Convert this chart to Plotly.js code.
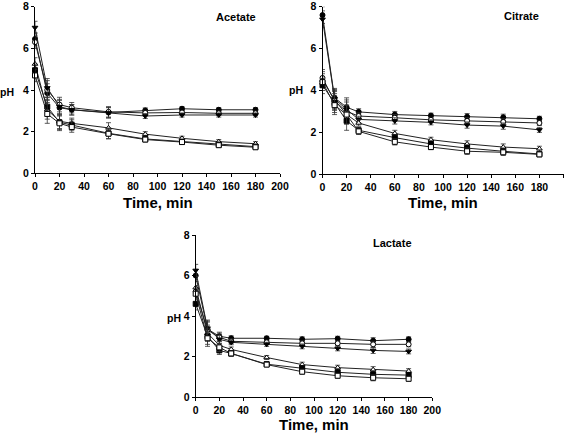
<!DOCTYPE html>
<html>
<head>
<meta charset="utf-8">
<script src="https://cdn.plot.ly/plotly-3.0.1.min.js"></script>
<style>html,body{margin:0;padding:0;background:#fff}#chart{width:572px;height:433px}</style>
</head>
<body>
<div id="chart"></div>
<script>
const times = [0, 10, 20, 30, 60, 90, 120, 150, 180];
const xTicks = [0, 20, 40, 60, 80, 100, 120, 140, 160, 180, 200];
const yTicks = [0, 2, 4, 6, 8];
const panelNames = ["Acetate", "Citrate", "Lactate"];
const xTitle = "Time, min";
const yTitle = "pH";

const acetateFilledCircle   = [6.45, 3.85, 3.15, 3.05, 2.92, 3.02, 3.10, 3.05, 3.05];
const acetateOpenCircle     = [6.30, 4.00, 3.30, 3.15, 2.95, 2.90, 2.92, 2.88, 2.88];
const acetateFilledTriangle = [7.00, 4.10, 3.20, 3.05, 2.90, 2.75, 2.80, 2.80, 2.80];
const acetateOpenTriangle   = [5.25, 3.05, 2.50, 2.40, 2.18, 1.88, 1.68, 1.52, 1.42];
const acetateFilledSquare   = [4.95, 3.20, 2.45, 2.32, 1.92, 1.65, 1.52, 1.38, 1.28];
const acetateOpenSquare     = [4.70, 2.85, 2.40, 2.22, 1.90, 1.62, 1.50, 1.35, 1.25];
const acetateErr            = [0.30, 0.45, 0.35, 0.25, 0.25, 0.12, 0.10, 0.10, 0.10];

const citrateFilledCircle   = [7.60, 3.65, 3.20, 2.98, 2.85, 2.80, 2.75, 2.72, 2.65];
const citrateOpenCircle     = [4.60, 3.50, 3.00, 2.78, 2.70, 2.60, 2.55, 2.50, 2.45];
const citrateFilledTriangle = [7.40, 3.60, 3.10, 2.62, 2.55, 2.48, 2.35, 2.30, 2.12];
const citrateOpenTriangle   = [4.50, 3.55, 2.85, 2.45, 1.95, 1.65, 1.45, 1.30, 1.22];
const citrateFilledSquare   = [4.25, 3.40, 2.55, 2.10, 1.75, 1.45, 1.25, 1.10, 0.97];
const citrateOpenSquare     = [4.40, 3.30, 2.85, 2.05, 1.55, 1.30, 1.10, 1.05, 0.95];
const citrateErr            = [0.40, 0.45, 0.45, 0.15, 0.15, 0.12, 0.15, 0.15, 0.12];

const lactateFilledCircle   = [6.00, 3.35, 3.00, 2.90, 2.90, 2.85, 2.88, 2.78, 2.85];
const lactateOpenCircle     = [5.20, 3.30, 2.95, 2.75, 2.70, 2.65, 2.65, 2.60, 2.60];
const lactateFilledTriangle = [6.25, 3.40, 2.85, 2.70, 2.60, 2.50, 2.40, 2.30, 2.25];
const lactateOpenTriangle   = [5.40, 3.15, 2.55, 2.35, 1.95, 1.60, 1.45, 1.35, 1.28];
const lactateFilledSquare   = [4.60, 3.00, 2.30, 2.15, 1.62, 1.42, 1.22, 1.12, 1.08];
const lactateOpenSquare     = [5.10, 2.90, 2.45, 2.15, 1.60, 1.25, 1.05, 0.95, 0.90];
const lactateErr            = [0.30, 0.40, 0.20, 0.12, 0.10, 0.12, 0.12, 0.15, 0.12];

const FONT = "Liberation Sans, Arial, sans-serif";
const styles = [
  {symbol: "circle", color: "#000"},
  {symbol: "circle", color: "#fff"},
  {symbol: "triangle-down", color: "#000"},
  {symbol: "triangle-up", color: "#fff"},
  {symbol: "square", color: "#000"},
  {symbol: "square", color: "#fff"}
];

const panels = [
  {series: [acetateFilledCircle, acetateOpenCircle, acetateFilledTriangle, acetateOpenTriangle, acetateFilledSquare, acetateOpenSquare], err: acetateErr, xa: "x", ya: "y"},
  {series: [citrateFilledCircle, citrateOpenCircle, citrateFilledTriangle, citrateOpenTriangle, citrateFilledSquare, citrateOpenSquare], err: citrateErr, xa: "x2", ya: "y2"},
  {series: [lactateFilledCircle, lactateOpenCircle, lactateFilledTriangle, lactateOpenTriangle, lactateFilledSquare, lactateOpenSquare], err: lactateErr, xa: "x3", ya: "y3"}
];

const traces = [];
panels.forEach(p => {
  p.series.forEach((vals, i) => {
    traces.push({
      x: times, y: vals, xaxis: p.xa, yaxis: p.ya,
      type: "scatter", mode: "lines+markers", cliponaxis: false, showlegend: false,
      line: {color: "#222", width: 1},
      marker: {symbol: styles[i].symbol, color: styles[i].color, size: 5, line: {color: "#000", width: 1}},
      error_y: {type: "data", array: p.err, visible: true, color: "#333", thickness: 0.8, width: 2.5}
    });
  });
});

const W = 572, H = 433;
function xd(a, b) { return [a / W, b / W]; }
function yd(bottom, top) { return [1 - bottom / H, 1 - top / H]; }

function xAxis(dom, anchor) {
  return {domain: dom, anchor: anchor, range: [0, 200], tickvals: xTicks, ticktext: xTicks.map(String),
    showline: true, linecolor: "#000", linewidth: 1, ticks: "outside", ticklen: 3, tickcolor: "#000",
    showgrid: false, zeroline: false, fixedrange: true,
    tickfont: {family: FONT, size: 10.5, color: "#000", weight: "bold"}};
}
function yAxis(dom, anchor) {
  return {domain: dom, anchor: anchor, range: [0, 8], tickvals: yTicks, ticktext: yTicks.map(String),
    showline: true, linecolor: "#000", linewidth: 1, ticks: "outside", ticklen: 3, tickcolor: "#000",
    showgrid: false, zeroline: false, fixedrange: true,
    tickfont: {family: FONT, size: 10.5, color: "#000", weight: "bold"}};
}

function ann(text, px, py, size) {
  return {text: text, xref: "paper", yref: "paper", x: px / W, y: 1 - py / H,
    xanchor: "center", yanchor: "middle", showarrow: false,
    font: {family: FONT, size: size, color: "#000", weight: "bold"}};
}

const layout = {
  width: W, height: H, margin: {l: 0, r: 0, t: 0, b: 0},
  paper_bgcolor: "#fff", plot_bgcolor: "#fff", showlegend: false,
  xaxis: xAxis(xd(35, 280), "y"),
  yaxis: yAxis(yd(173.3, 6.7), "x"),
  xaxis2: xAxis(xd(322.5, 563.5), "y2"),
  yaxis2: yAxis(yd(174.3, 6.7), "x2"),
  xaxis3: xAxis(xd(195.7, 432.3), "y3"),
  yaxis3: yAxis(yd(397, 235), "x3"),
  annotations: [
    ann(panelNames[0], 236, 17, 11),
    ann(panelNames[1], 521, 16, 11),
    ann(panelNames[2], 392, 243, 11),
    ann(yTitle, 7, 92, 10.5),
    ann(yTitle, 296, 90, 10.5),
    ann(yTitle, 174, 318, 10.5),
    ann(xTitle, 158, 202, 15),
    ann(xTitle, 443, 203, 15),
    ann(xTitle, 314, 424, 15)
  ]
};

Plotly.newPlot("chart", traces, layout, {staticPlot: true, displayModeBar: false});
</script>
</body>
</html>
